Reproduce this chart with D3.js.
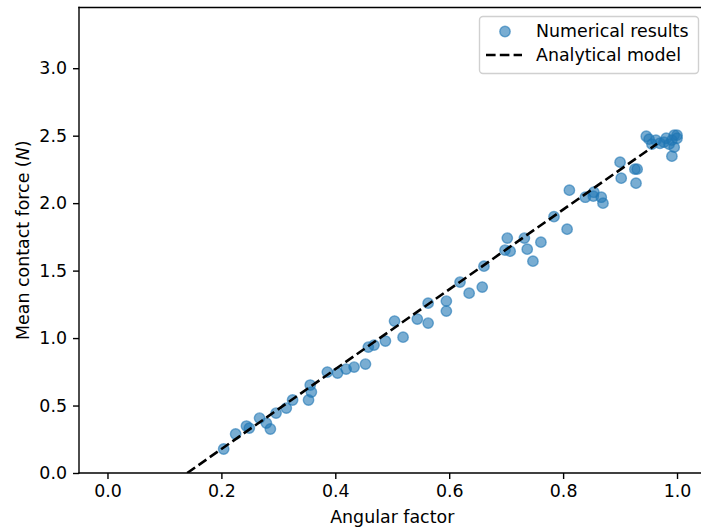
<!DOCTYPE html>
<html>
<head>
<meta charset="utf-8">
<script src="https://cdn.jsdelivr.net/npm/d3@7"></script>
<style>
  html, body { margin: 0; padding: 0; background: #fff; }
  svg { display: block; font-family: "DejaVu Sans", sans-serif; }
</style>
</head>
<body>
<svg id="chart" width="701" height="532"></svg>
<script>
// ---- data ----
const numX = [0.204, 0.225, 0.244, 0.249, 0.267, 0.279, 0.286, 0.296, 0.314, 0.325,
  0.353, 0.356, 0.358, 0.386, 0.404, 0.419, 0.433, 0.453, 0.458, 0.468,
  0.488, 0.504, 0.519, 0.544, 0.563, 0.563, 0.595, 0.595, 0.619, 0.635,
  0.658, 0.661, 0.698, 0.702, 0.707, 0.732, 0.737, 0.747, 0.761, 0.784,
  0.807, 0.811, 0.839, 0.853, 0.854, 0.867, 0.870, 0.900, 0.902, 0.926,
  0.930, 0.928, 0.946, 0.951, 0.956, 0.963, 0.970, 0.977, 0.981, 0.986,
  0.991, 0.995, 1.000, 0.995, 0.991, 1.000];
const numY = [0.178, 0.289, 0.348, 0.333, 0.407, 0.370, 0.326, 0.444, 0.481, 0.541,
  0.541, 0.652, 0.600, 0.748, 0.741, 0.770, 0.785, 0.807, 0.933, 0.948,
  0.978, 1.126, 1.007, 1.141, 1.259, 1.111, 1.200, 1.274, 1.415, 1.333,
  1.378, 1.533, 1.652, 1.741, 1.644, 1.741, 1.659, 1.570, 1.711, 1.900,
  1.807, 2.096, 2.044, 2.052, 2.081, 2.044, 2.000, 2.304, 2.185, 2.252,
  2.252, 2.148, 2.496, 2.474, 2.437, 2.467, 2.444, 2.452, 2.481, 2.437,
  2.467, 2.504, 2.504, 2.415, 2.348, 2.481];
const lineX = [0.14, 0.965];
const lineY = [0.0, 2.44];
const xTicks = [0.0, 0.2, 0.4, 0.6, 0.8, 1.0];
const yTicks = [0.0, 0.5, 1.0, 1.5, 2.0, 2.5, 3.0];
const xLabel = "Angular factor";
const yLabelMain = "Mean contact force (";
const yLabelVar = "N";
const seriesNames = ["Numerical results", "Analytical model"];

// ---- layout ----
const L = 79, T = 7.5, R = 705.5, B = 473;
const svg = d3.select("#chart");
const x = d3.scaleLinear().domain([-0.05, 1.05]).range([L, R]);
const y = d3.scaleLinear().domain([0, 3.45]).range([B, T]);
const fs = 17.4;
const lw = 2.6, dash = "9.6,4.2";

svg.append("defs").append("clipPath").attr("id", "clip")
  .append("rect").attr("x", L).attr("y", T).attr("width", R - L).attr("height", B - T);

const plot = svg.append("g").attr("clip-path", "url(#clip)");

// scatter
plot.selectAll("circle.pt").data(numX.map((v, i) => [v, numY[i]]))
  .enter().append("circle").attr("class", "pt")
  .attr("cx", d => x(d[0])).attr("cy", d => y(d[1])).attr("r", 5.2)
  .attr("fill", "#1f77b4").attr("fill-opacity", 0.6)
  .attr("stroke", "#1f77b4").attr("stroke-opacity", 0.6).attr("stroke-width", 1.4);

// analytical line
plot.append("path").datum(lineX.map((v, i) => [v, lineY[i]]))
  .attr("d", d3.line().x(d => x(d[0])).y(d => y(d[1])))
  .attr("fill", "none").attr("stroke", "#000").attr("stroke-width", lw)
  .attr("stroke-dasharray", dash);

// axes
const xAxis = d3.axisBottom(x).tickValues(xTicks).tickFormat(d3.format(".1f")).tickSize(6).tickPadding(6);
const yAxis = d3.axisLeft(y).tickValues(yTicks).tickFormat(d3.format(".1f")).tickSize(6).tickPadding(6);
const gx = svg.append("g").attr("transform", `translate(0,${B})`).call(xAxis);
const gy = svg.append("g").attr("transform", `translate(${L},0)`).call(yAxis);
[gx, gy].forEach(g => {
  g.select(".domain").remove();
  g.selectAll("line").attr("stroke", "#000").attr("stroke-width", 1.4);
  g.selectAll("text").attr("font-size", fs).attr("fill", "#000").attr("font-family", "DejaVu Sans");
});

// spines
const sp = [[L, T, L, B], [L, B, R, B], [L, T, R, T], [R, T, R, B]];
sp.forEach(s => svg.append("line").attr("x1", s[0]).attr("y1", s[1]).attr("x2", s[2]).attr("y2", s[3])
  .attr("stroke", "#000").attr("stroke-width", 1.4).attr("stroke-linecap", "square"));

// axis labels
svg.append("text").attr("x", (L + R) / 2).attr("y", 523).attr("text-anchor", "middle")
  .attr("font-size", fs).text(xLabel);
const yl = svg.append("text").attr("transform", `translate(29,${(T + B) / 2}) rotate(-90)`)
  .attr("text-anchor", "middle").attr("font-size", fs);
yl.append("tspan").text(yLabelMain);
yl.append("tspan").attr("font-style", "italic").text(yLabelVar);
yl.append("tspan").text(")");

// legend
const lg = svg.append("g");
lg.append("rect").attr("x", 479.5).attr("y", 16.5).attr("width", 219).attr("height", 57)
  .attr("rx", 3.5).attr("fill", "#fff").attr("fill-opacity", 0.8)
  .attr("stroke", "#d0d0d0").attr("stroke-width", 1.4);
lg.append("circle").attr("cx", 505).attr("cy", 31.5).attr("r", 5.2)
  .attr("fill", "#1f77b4").attr("fill-opacity", 0.6)
  .attr("stroke", "#1f77b4").attr("stroke-opacity", 0.6).attr("stroke-width", 1.4);
lg.append("line").attr("x1", 486).attr("x2", 522).attr("y1", 55).attr("y2", 55)
  .attr("stroke", "#000").attr("stroke-width", lw).attr("stroke-dasharray", dash);
lg.append("text").attr("x", 536).attr("y", 37).attr("font-size", fs).text(seriesNames[0]);
lg.append("text").attr("x", 536).attr("y", 61).attr("font-size", fs).text(seriesNames[1]);
</script>
</body>
</html>
